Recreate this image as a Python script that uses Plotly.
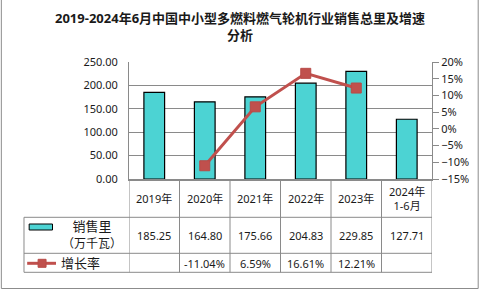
import plotly.graph_objects as go

categories = ["2019年", "2020年", "2021年", "2022年", "2023年", "2024年1-6月"]
header_labels = ["2019年", "2020年", "2021年", "2022年", "2023年", "2024年<br>1-6月"]
sales = [185.25, 164.80, 175.66, 204.83, 229.85, 127.71]
growth = [None, -11.04, 6.59, 16.61, 12.21, None]
sales_name_1 = "销售里"
sales_name_2 = "（万千瓦）"
growth_name = "增长率"
title_1 = "2019-2024年6月中国中小型多燃料燃气轮机行业销售总里及增速"
title_2 = "分析"

BAR_COLOR = "rgb(76,211,211)"
LINE_COLOR = "#C0504D"
GRID = "#8a8a8a"
FONT = "Noto Sans, Noto Sans CJK SC, sans-serif"
TXT = "#1a1a1a"

FW, FH = 481, 289
L, R, T, B = 129, 434, 62, 179
W, H = R - L, B - T


def px(x):
    return (x - L) / W


def py(y):
    return (B - y) / H


fig = go.Figure()
fig.add_trace(go.Bar(
    x=categories, y=sales, width=0.41,
    marker=dict(color=BAR_COLOR, line=dict(color="black", width=1.2)),
    showlegend=False, hoverinfo="skip",
))
fig.add_trace(go.Scatter(
    x=categories, y=growth, yaxis="y2", mode="lines+markers",
    line=dict(color=LINE_COLOR, width=3),
    marker=dict(symbol="square", size=10, color=LINE_COLOR,
                line=dict(color="#b84a47", width=1)),
    connectgaps=False, showlegend=False, hoverinfo="skip",
))

shapes = []
# outer frame
shapes.append(dict(type="rect", xref="paper", yref="paper",
                   x0=px(0.5), x1=px(480.5), y0=py(288.5), y1=py(-2),
                   line=dict(color="#8c8c8c", width=1), layer="below"))

tbl_top = B
row1 = 217.3
row2 = 253.3
row3 = 272.3
leg_left = 23.3
line_style = dict(color=GRID, width=1)
for yy in (row1, row2, row3):
    shapes.append(dict(type="line", xref="paper", yref="paper",
                       x0=px(leg_left), x1=px(R), y0=py(yy), y1=py(yy),
                       line=line_style))
shapes.append(dict(type="line", xref="paper", yref="paper",
                   x0=px(leg_left), x1=px(leg_left), y0=py(row1), y1=py(row3),
                   line=line_style))
for i in range(len(categories) + 1):
    shapes.append(dict(type="line", xref="x", yref="paper",
                       x0=i - 0.5, x1=i - 0.5, y0=py(tbl_top), y1=py(row3),
                       line=line_style))

# legend glyphs
shapes.append(dict(type="rect", xref="paper", yref="paper",
                   x0=px(28.5), x1=px(52), y0=py(230), y1=py(224),
                   fillcolor=BAR_COLOR, line=dict(color="black", width=1)))
shapes.append(dict(type="line", xref="paper", yref="paper",
                   x0=px(26.5), x1=px(55.5), y0=py(263.3), y1=py(263.3),
                   line=dict(color=LINE_COLOR, width=3)))
shapes.append(dict(type="rect", xref="paper", yref="paper",
                   x0=px(37.5), x1=px(45.5), y0=py(267.3), y1=py(259.3),
                   fillcolor=LINE_COLOR, line=dict(color="#b84a47", width=1)))

ann = []
ann.append(dict(text=f"<b>{title_1}<br>{title_2}</b>", xref="paper", yref="paper",
                x=px(240.5), y=py(26), showarrow=False,
                font=dict(family=FONT, size=13, color=TXT),
                xanchor="center", yanchor="middle", align="center"))

for i, c in enumerate(categories):
    ann.append(dict(text=header_labels[i], xref="x", yref="paper",
                    x=c, y=py(198.5), showarrow=False,
                    font=dict(family=FONT, size=11, color=TXT),
                    xanchor="center", yanchor="middle"))
    ann.append(dict(text=f"{sales[i]:.2f}", xref="x", yref="paper",
                    x=c, y=py(235.5), showarrow=False,
                    font=dict(family=FONT, size=11, color=TXT),
                    xanchor="center", yanchor="middle"))
    if growth[i] is not None:
        ann.append(dict(text=f"{growth[i]:.2f}%", xref="x", yref="paper",
                        x=c, y=py(263), showarrow=False,
                        font=dict(family=FONT, size=11, color=TXT),
                        xanchor="center", yanchor="middle"))

ann.append(dict(text=f"{sales_name_1}<br><span style='font-size:12px'>{sales_name_2}</span>",
                xref="paper", yref="paper",
                x=px(92), y=py(234.5), showarrow=False,
                font=dict(family=FONT, size=13, color=TXT),
                xanchor="center", yanchor="middle", align="center"))
ann.append(dict(text=growth_name, xref="paper", yref="paper",
                x=px(59), y=py(263), showarrow=False,
                font=dict(family=FONT, size=13, color=TXT),
                xanchor="left", yanchor="middle"))

fig.update_layout(
    width=FW, height=FH,
    margin=dict(l=L, r=FW - R, t=T, b=FH - B, pad=0),
    paper_bgcolor="white", plot_bgcolor="white",
    font=dict(family=FONT, size=11, color=TXT),
    showlegend=False,
    xaxis=dict(type="category", range=[-0.5, 5.5], showticklabels=False,
               showgrid=False, zeroline=False, ticks="",
               showline=True, linecolor=GRID, linewidth=2),
    yaxis=dict(range=[0, 250], dtick=50, tickformat=".2f",
               showgrid=True, gridcolor=GRID, gridwidth=1, zeroline=False,
               showline=True, linecolor=GRID, linewidth=1, ticks="",
               ticklabelstandoff=8, tickfont=dict(family=FONT, size=11, color=TXT)),
    yaxis2=dict(range=[-15, 20], dtick=5, ticksuffix="%", overlaying="y", side="right",
                showgrid=False, zeroline=False, showline=True, linecolor=GRID, linewidth=1,
                ticks="outside", ticklen=6, tickcolor=GRID,
                tickfont=dict(family=FONT, size=11, color=TXT)),
    shapes=shapes,
    annotations=ann,
)

fig.write_html("out.html")
